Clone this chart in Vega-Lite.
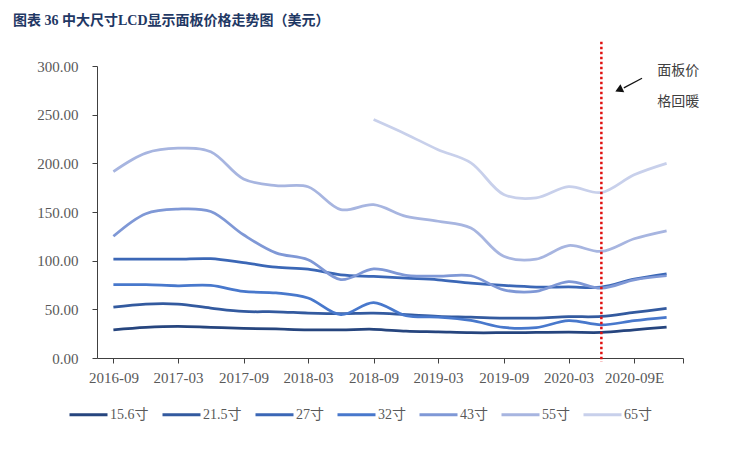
{
  "$schema": "https://vega.github.io/schema/vega-lite/v6.json",
  "width": 586,
  "height": 292,
  "autosize": "none",
  "padding": {"left": 97, "top": 66, "right": 54, "bottom": 92},
  "background": "white",
  "title": {
    "text": "图表 36 中大尺寸LCD显示面板价格走势图（美元）",
    "anchor": "start",
    "frame": "group",
    "dx": -84,
    "offset": 12,
    "font": "Liberation Serif, Noto Sans CJK SC",
    "fontSize": 14,
    "fontWeight": "bold",
    "color": "#1f3864"
  },
  "config": {
    "view": {"stroke": null},
    "font": "Liberation Serif, Noto Sans CJK SC",
    "axis": {
      "labelFont": "Liberation Serif, Noto Sans CJK SC",
      "labelFontSize": 15,
      "labelColor": "#595959",
      "domainColor": "#404040",
      "tickColor": "#404040",
      "tickSize": 5,
      "grid": false,
      "title": null
    },
    "legend": {
      "labelFont": "Liberation Serif, Noto Sans CJK SC",
      "labelFontSize": 14,
      "labelColor": "#595959"
    }
  },
  "layer": [
    {
      "data": {
        "values": [
          {"date": "2016-09", "size": "15.6寸", "price": 29},
          {"date": "2016-12", "size": "15.6寸", "price": 31.5},
          {"date": "2017-03", "size": "15.6寸", "price": 32.5},
          {"date": "2017-06", "size": "15.6寸", "price": 31.5},
          {"date": "2017-09", "size": "15.6寸", "price": 30.5},
          {"date": "2017-12", "size": "15.6寸", "price": 29.8},
          {"date": "2018-03", "size": "15.6寸", "price": 29},
          {"date": "2018-06", "size": "15.6寸", "price": 29},
          {"date": "2018-09", "size": "15.6寸", "price": 29.5},
          {"date": "2018-12", "size": "15.6寸", "price": 27.5},
          {"date": "2019-03", "size": "15.6寸", "price": 26.8},
          {"date": "2019-06", "size": "15.6寸", "price": 26},
          {"date": "2019-09", "size": "15.6寸", "price": 26},
          {"date": "2019-12", "size": "15.6寸", "price": 26.2},
          {"date": "2020-03", "size": "15.6寸", "price": 26.5},
          {"date": "2020-06", "size": "15.6寸", "price": 26.3},
          {"date": "2020-09", "size": "15.6寸", "price": 29},
          {"date": "2020-12", "size": "15.6寸", "price": 31.8},
          {"date": "2016-09", "size": "21.5寸", "price": 52.3},
          {"date": "2016-12", "size": "21.5寸", "price": 55.4},
          {"date": "2017-03", "size": "21.5寸", "price": 55.4},
          {"date": "2017-06", "size": "21.5寸", "price": 51.3},
          {"date": "2017-09", "size": "21.5寸", "price": 47.8},
          {"date": "2017-12", "size": "21.5寸", "price": 47.5},
          {"date": "2018-03", "size": "21.5寸", "price": 46.2},
          {"date": "2018-06", "size": "21.5寸", "price": 45.5},
          {"date": "2018-09", "size": "21.5寸", "price": 46},
          {"date": "2018-12", "size": "21.5寸", "price": 44.5},
          {"date": "2019-03", "size": "21.5寸", "price": 42.8},
          {"date": "2019-06", "size": "21.5寸", "price": 42},
          {"date": "2019-09", "size": "21.5寸", "price": 41},
          {"date": "2019-12", "size": "21.5寸", "price": 41},
          {"date": "2020-03", "size": "21.5寸", "price": 42.4},
          {"date": "2020-06", "size": "21.5寸", "price": 42.7},
          {"date": "2020-09", "size": "21.5寸", "price": 46.8},
          {"date": "2020-12", "size": "21.5寸", "price": 50.9},
          {"date": "2016-09", "size": "27寸", "price": 101.5},
          {"date": "2016-12", "size": "27寸", "price": 101.5},
          {"date": "2017-03", "size": "27寸", "price": 101.5},
          {"date": "2017-06", "size": "27寸", "price": 102},
          {"date": "2017-09", "size": "27寸", "price": 98},
          {"date": "2017-12", "size": "27寸", "price": 93.3},
          {"date": "2018-03", "size": "27寸", "price": 91.3},
          {"date": "2018-06", "size": "27寸", "price": 85.4},
          {"date": "2018-09", "size": "27寸", "price": 83.8},
          {"date": "2018-12", "size": "27寸", "price": 82},
          {"date": "2019-03", "size": "27寸", "price": 80.3},
          {"date": "2019-06", "size": "27寸", "price": 77},
          {"date": "2019-09", "size": "27寸", "price": 74.5},
          {"date": "2019-12", "size": "27寸", "price": 72.9},
          {"date": "2020-03", "size": "27寸", "price": 73},
          {"date": "2020-06", "size": "27寸", "price": 72.9},
          {"date": "2020-09", "size": "27寸", "price": 81},
          {"date": "2020-12", "size": "27寸", "price": 86.5},
          {"date": "2016-09", "size": "32寸", "price": 75.3},
          {"date": "2016-12", "size": "32寸", "price": 75.3},
          {"date": "2017-03", "size": "32寸", "price": 74.2},
          {"date": "2017-06", "size": "32寸", "price": 74.5},
          {"date": "2017-09", "size": "32寸", "price": 68.4},
          {"date": "2017-12", "size": "32寸", "price": 66.8},
          {"date": "2018-03", "size": "32寸", "price": 61.6},
          {"date": "2018-06", "size": "32寸", "price": 44.5},
          {"date": "2018-09", "size": "32寸", "price": 57},
          {"date": "2018-12", "size": "32寸", "price": 43.5},
          {"date": "2019-03", "size": "32寸", "price": 42},
          {"date": "2019-06", "size": "32寸", "price": 38.6},
          {"date": "2019-09", "size": "32寸", "price": 31.4},
          {"date": "2019-12", "size": "32寸", "price": 31.2},
          {"date": "2020-03", "size": "32寸", "price": 38.4},
          {"date": "2020-06", "size": "32寸", "price": 34.1},
          {"date": "2020-09", "size": "32寸", "price": 38.3},
          {"date": "2020-12", "size": "32寸", "price": 41.7},
          {"date": "2016-09", "size": "43寸", "price": 125},
          {"date": "2016-12", "size": "43寸", "price": 148.3},
          {"date": "2017-03", "size": "43寸", "price": 153},
          {"date": "2017-06", "size": "43寸", "price": 150.5},
          {"date": "2017-09", "size": "43寸", "price": 126.6},
          {"date": "2017-12", "size": "43寸", "price": 108},
          {"date": "2018-03", "size": "43寸", "price": 101},
          {"date": "2018-06", "size": "43寸", "price": 80.5},
          {"date": "2018-09", "size": "43寸", "price": 91.5},
          {"date": "2018-12", "size": "43寸", "price": 85},
          {"date": "2019-03", "size": "43寸", "price": 84},
          {"date": "2019-06", "size": "43寸", "price": 84.5},
          {"date": "2019-09", "size": "43寸", "price": 70},
          {"date": "2019-12", "size": "43寸", "price": 68.4},
          {"date": "2020-03", "size": "43寸", "price": 78.5},
          {"date": "2020-06", "size": "43寸", "price": 71.8},
          {"date": "2020-09", "size": "43寸", "price": 80.3},
          {"date": "2020-12", "size": "43寸", "price": 84.5},
          {"date": "2016-09", "size": "55寸", "price": 191.5},
          {"date": "2016-12", "size": "55寸", "price": 210.5},
          {"date": "2017-03", "size": "55寸", "price": 215.5},
          {"date": "2017-06", "size": "55寸", "price": 212},
          {"date": "2017-09", "size": "55寸", "price": 184},
          {"date": "2017-12", "size": "55寸", "price": 177},
          {"date": "2018-03", "size": "55寸", "price": 176},
          {"date": "2018-06", "size": "55寸", "price": 152.5},
          {"date": "2018-09", "size": "55寸", "price": 157.5},
          {"date": "2018-12", "size": "55寸", "price": 145.5},
          {"date": "2019-03", "size": "55寸", "price": 140.5},
          {"date": "2019-06", "size": "55寸", "price": 133.5},
          {"date": "2019-09", "size": "55寸", "price": 104.5},
          {"date": "2019-12", "size": "55寸", "price": 101.5},
          {"date": "2020-03", "size": "55寸", "price": 115.5},
          {"date": "2020-06", "size": "55寸", "price": 109.5},
          {"date": "2020-09", "size": "55寸", "price": 122.5},
          {"date": "2020-12", "size": "55寸", "price": 130.7},
          {"date": "2018-09", "size": "65寸", "price": 245},
          {"date": "2018-12", "size": "65寸", "price": 230},
          {"date": "2019-03", "size": "65寸", "price": 214},
          {"date": "2019-06", "size": "65寸", "price": 200.5},
          {"date": "2019-09", "size": "65寸", "price": 168},
          {"date": "2019-12", "size": "65寸", "price": 164.5},
          {"date": "2020-03", "size": "65寸", "price": 176},
          {"date": "2020-06", "size": "65寸", "price": 170},
          {"date": "2020-09", "size": "65寸", "price": 188.2},
          {"date": "2020-12", "size": "65寸", "price": 200}
        ]
      },
      "mark": {"type": "line", "interpolate": "catmull-rom", "strokeWidth": 2.75},
      "encoding": {
        "x": {
          "field": "date",
          "type": "temporal",
          "scale": {
            "type": "utc",
            "domain": [
              {"year": 2016, "month": 7, "date": 17, "utc": true},
              {"year": 2021, "month": 1, "date": 16, "utc": true}
            ]
          },
          "axis": {
            "values": [
              {"year": 2016, "month": 9, "date": 1, "utc": true},
              {"year": 2016, "month": 12, "date": 1, "utc": true},
              {"year": 2017, "month": 3, "date": 1, "utc": true},
              {"year": 2017, "month": 6, "date": 1, "utc": true},
              {"year": 2017, "month": 9, "date": 1, "utc": true},
              {"year": 2017, "month": 12, "date": 1, "utc": true},
              {"year": 2018, "month": 3, "date": 1, "utc": true},
              {"year": 2018, "month": 6, "date": 1, "utc": true},
              {"year": 2018, "month": 9, "date": 1, "utc": true},
              {"year": 2018, "month": 12, "date": 1, "utc": true},
              {"year": 2019, "month": 3, "date": 1, "utc": true},
              {"year": 2019, "month": 6, "date": 1, "utc": true},
              {"year": 2019, "month": 9, "date": 1, "utc": true},
              {"year": 2019, "month": 12, "date": 1, "utc": true},
              {"year": 2020, "month": 3, "date": 1, "utc": true},
              {"year": 2020, "month": 6, "date": 1, "utc": true},
              {"year": 2020, "month": 9, "date": 1, "utc": true},
              {"year": 2020, "month": 12, "date": 1, "utc": true},
              {"year": 2021, "month": 1, "date": 16, "utc": true}
            ],
            "labelExpr": "utcFormat(datum.value, '%Y-%m') == '2020-09' ? '2020-09E' : (utcmonth(datum.value) % 6 == 2 ? utcFormat(datum.value, '%Y-%m') : '')",
            "labelPadding": 7,
            "labelFlush": false,
            "labelOverlap": false
          }
        },
        "y": {
          "field": "price",
          "type": "quantitative",
          "scale": {"domain": [0, 300], "nice": false},
          "axis": {
            "values": [0, 50, 100, 150, 200, 250, 300],
            "format": ".2f",
            "labelPadding": 14
          }
        },
        "color": {
          "field": "size",
          "type": "nominal",
          "scale": {
            "domain": ["15.6寸", "21.5寸", "27寸", "32寸", "43寸", "55寸", "65寸"],
            "range": ["#26457e", "#335a9f", "#3b67b6", "#4878cc", "#7f98d6", "#a7b5e0", "#c8d0eb"]
          },
          "legend": {
            "title": null,
            "orient": "none",
            "direction": "horizontal",
            "columns": 7,
            "gridAlign": "each",
            "legendX": -29,
            "legendY": 328,
            "symbolType": "stroke",
            "symbolSize": 1444,
            "symbolStrokeWidth": 3,
            "labelOffset": 1,
            "columnPadding": 7
          }
        }
      }
    },
    {
      "data": {"values": [{"mark": "2020-06"}]},
      "mark": {"type": "rule", "color": "#e01010", "strokeWidth": 2.5, "strokeDash": [2.5, 2.5]},
      "encoding": {
        "x": {"datum": {"year": 2020, "month": 6, "date": 1, "utc": true}, "type": "temporal"},
        "y": {"datum": 325, "type": "quantitative"},
        "y2": {"datum": -4}
      }
    },
    {
      "data": {"values": [{"mark": "arrow"}]},
      "mark": {"type": "rule", "color": "#111111", "strokeWidth": 1.2},
      "encoding": {
        "x": {"datum": {"year": 2020, "month": 9, "date": 23, "utc": true}, "type": "temporal"},
        "x2": {"datum": {"year": 2020, "month": 8, "date": 3, "utc": true}},
        "y": {"datum": 287.5, "type": "quantitative"},
        "y2": {"datum": 277.5}
      }
    },
    {
      "data": {"values": [{"mark": "arrowhead"}]},
      "mark": {"type": "point", "shape": "triangle-up", "filled": true, "color": "#111111", "opacity": 1, "size": 80, "angle": 245},
      "encoding": {
        "x": {"datum": {"year": 2020, "month": 7, "date": 20, "utc": true}, "type": "temporal"},
        "y": {"datum": 275.5, "type": "quantitative"}
      }
    },
    {
      "data": {
        "values": [
          {"date": "2021-01-03", "price": 295.3, "note": "面板价"},
          {"date": "2021-01-03", "price": 263.4, "note": "格回暖"}
        ]
      },
      "mark": {"type": "text", "font": "Noto Sans CJK SC", "fontSize": 14, "color": "#404040", "align": "center", "baseline": "middle"},
      "encoding": {
        "x": {"field": "date", "type": "temporal"},
        "y": {"field": "price", "type": "quantitative"},
        "text": {"field": "note"}
      }
    }
  ]
}
